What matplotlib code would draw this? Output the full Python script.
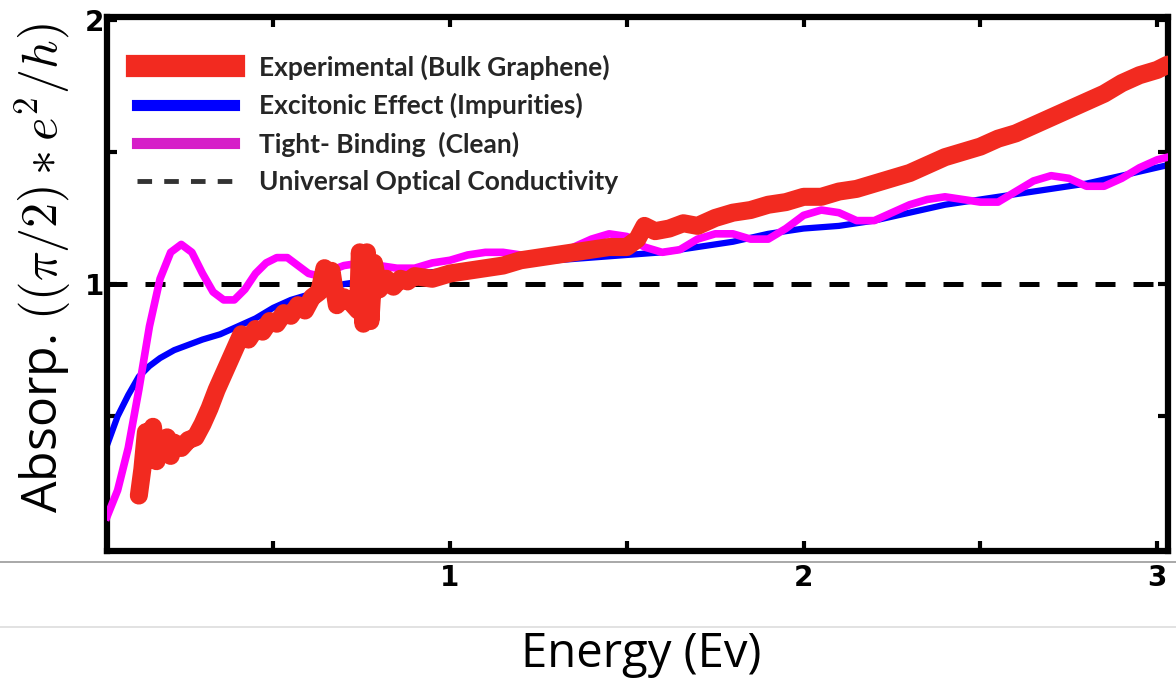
import matplotlib
matplotlib.use("Agg")
import matplotlib.pyplot as plt
from matplotlib.lines import Line2D

# experimental absorption (bulk graphene), read point by point
x_exp = [0.12, 0.13, 0.14, 0.15, 0.16, 0.17, 0.18, 0.19, 0.20, 0.21, 0.22, 0.24,
         0.26, 0.28, 0.30, 0.32, 0.34, 0.36, 0.38, 0.40, 0.41, 0.43, 0.45, 0.47,
         0.49, 0.51, 0.53, 0.55, 0.57, 0.59, 0.61, 0.63, 0.645, 0.655, 0.665, 0.68,
         0.70, 0.72, 0.74, 0.745, 0.755, 0.765, 0.775, 0.785, 0.80, 0.82, 0.84, 0.86,
         0.88, 0.90, 0.95, 1.00, 1.05, 1.10, 1.15, 1.20, 1.25, 1.30, 1.35, 1.40,
         1.45, 1.50, 1.53, 1.55, 1.58, 1.62, 1.66, 1.70, 1.75, 1.80, 1.85, 1.90,
         1.95, 2.00, 2.05, 2.10, 2.15, 2.20, 2.25, 2.30, 2.35, 2.40, 2.45, 2.50,
         2.55, 2.60, 2.65, 2.70, 2.75, 2.80, 2.85, 2.90, 2.95, 3.00, 3.03]
y_exp = [0.20, 0.30, 0.44, 0.36, 0.46, 0.33, 0.40, 0.36, 0.42, 0.35, 0.40, 0.38,
         0.41, 0.42, 0.47, 0.53, 0.60, 0.66, 0.72, 0.78, 0.81, 0.79, 0.83, 0.82,
         0.86, 0.85, 0.89, 0.88, 0.92, 0.90, 0.95, 0.97, 1.06, 0.99, 1.05, 0.92,
         0.95, 0.93, 0.90, 1.12, 0.85, 1.12, 0.86, 1.08, 0.98, 1.02, 0.99, 1.02,
         1.01, 1.03, 1.02, 1.04, 1.05, 1.06, 1.07, 1.09, 1.10, 1.11, 1.12, 1.13,
         1.14, 1.14, 1.17, 1.22, 1.20, 1.21, 1.23, 1.22, 1.25, 1.27, 1.28, 1.30,
         1.31, 1.33, 1.33, 1.35, 1.36, 1.38, 1.40, 1.42, 1.45, 1.48, 1.50, 1.52,
         1.55, 1.57, 1.60, 1.63, 1.66, 1.69, 1.72, 1.76, 1.79, 1.81, 1.83]

# excitonic effect (impurities)
x_exc = [0.03, 0.06, 0.09, 0.12, 0.15, 0.18, 0.22, 0.26, 0.30, 0.35, 0.40, 0.45,
         0.50, 0.55, 0.60, 0.65, 0.70, 0.80, 0.90, 1.00, 1.10, 1.20, 1.30, 1.40,
         1.50, 1.60, 1.70, 1.80, 1.90, 2.00, 2.10, 2.20, 2.30, 2.40, 2.50, 2.60,
         2.70, 2.80, 2.90, 3.03]
y_exc = [0.39, 0.50, 0.58, 0.65, 0.69, 0.72, 0.75, 0.77, 0.79, 0.81, 0.84, 0.87,
         0.91, 0.94, 0.96, 0.98, 1.00, 1.02, 1.04, 1.05, 1.07, 1.08, 1.09, 1.10,
         1.11, 1.12, 1.14, 1.16, 1.19, 1.21, 1.22, 1.24, 1.27, 1.30, 1.32, 1.34,
         1.36, 1.38, 1.41, 1.45]

# tight-binding (clean)
x_tb = [0.03, 0.06, 0.09, 0.12, 0.15, 0.18, 0.21, 0.24, 0.27, 0.30, 0.33, 0.36,
        0.39, 0.42, 0.45, 0.48, 0.51, 0.54, 0.57, 0.60, 0.63, 0.66, 0.70, 0.75,
        0.80, 0.85, 0.90, 0.95, 1.00, 1.05, 1.10, 1.15, 1.20, 1.25, 1.30, 1.35,
        1.40, 1.45, 1.50, 1.55, 1.60, 1.65, 1.70, 1.75, 1.80, 1.85, 1.90, 1.95,
        2.00, 2.05, 2.10, 2.15, 2.20, 2.25, 2.30, 2.35, 2.40, 2.45, 2.50, 2.55,
        2.60, 2.65, 2.70, 2.75, 2.80, 2.85, 2.90, 2.95, 3.00, 3.03]
y_tb = [0.12, 0.22, 0.38, 0.60, 0.84, 1.02, 1.12, 1.15, 1.12, 1.04, 0.97, 0.94,
        0.94, 0.98, 1.04, 1.08, 1.10, 1.10, 1.07, 1.04, 1.03, 1.05, 1.07, 1.08,
        1.07, 1.06, 1.06, 1.08, 1.09, 1.11, 1.12, 1.12, 1.11, 1.10, 1.11, 1.14,
        1.17, 1.19, 1.18, 1.14, 1.12, 1.13, 1.17, 1.19, 1.19, 1.17, 1.17, 1.21,
        1.26, 1.28, 1.27, 1.24, 1.24, 1.27, 1.30, 1.32, 1.33, 1.32, 1.31, 1.31,
        1.35, 1.39, 1.41, 1.40, 1.37, 1.37, 1.40, 1.44, 1.47, 1.48]

universal = 1.0

labels = ["Experimental (Bulk Graphene)", "Excitonic Effect (Impurities)",
          "Tight- Binding  (Clean)", "Universal Optical Conductivity"]

plt.rcParams['mathtext.fontset'] = 'cm'

fig = plt.figure(figsize=(11.76, 6.82), dpi=100)
ax = fig.add_axes([0.091, 0.192, 0.902, 0.783])

ax.axhline(universal, color='black', lw=3.6, dashes=(4, 3.6), zorder=1)
ax.plot(x_exc, y_exc, color='#0000ff', lw=4.5, zorder=2)
ax.plot(x_tb, y_tb, color='#ff00ff', lw=5.5, zorder=3)
ax.plot(x_exp, y_exp, color='#f22a20', lw=13, solid_capstyle='round',
        solid_joinstyle='round', zorder=4)

ax.set_xlim(0.03, 3.03)
ax.set_ylim(-0.01, 2.01)

# ticks on all four sides, labels only on the integers
ax.set_xticks([1, 2, 3])
ax.set_xticks([0.5, 1.5, 2.5], minor=True)
ax.set_yticks([1, 2])
ax.set_yticks([0.5, 1.5], minor=True)
ax.tick_params(which='both', direction='in', length=7, width=3,
               top=True, right=True, labelsize=20, pad=9)
ax.tick_params(axis='y', pad=2)
for lab in ax.get_xticklabels() + ax.get_yticklabels():
    lab.set_fontweight('bold')

for sp in ax.spines.values():
    sp.set_linewidth(4.5)

fig.text(0.036, 1 - 268 / 682, r"Absorp. $((\pi/2) * e^2/h)$", fontsize=36,
         family='Open Sans', rotation=90, ha='center', va='center')
fig.text(0.545, 0.04, "Energy (Ev)", fontsize=34, family='Open Sans',
         ha='center', va='center')

handles = [Line2D([], [], color='#f22a20', lw=16),
           Line2D([], [], color='#0000ff', lw=8),
           Line2D([], [], color='#d61ec8', lw=8),
           Line2D([], [], color='#333333', lw=3.5, dashes=(3, 2.5))]
leg = ax.legend(handles, labels, loc='upper left', bbox_to_anchor=(0.018, 0.95),
                frameon=False, borderaxespad=0, handlelength=3.7,
                handletextpad=0.95, labelspacing=0.5,
                prop={'family': 'Lato', 'weight': 'bold', 'size': 19})
for t in leg.get_texts():
    t.set_color('#262626')

# thin separator lines under the plot
fig.add_artist(Line2D([0, 1], [1 - 562 / 682] * 2, color='#999999', lw=1.2))
fig.add_artist(Line2D([0, 1], [1 - 627 / 682] * 2, color='#dddddd', lw=1.2))

fig.savefig("out.png", dpi=100)
